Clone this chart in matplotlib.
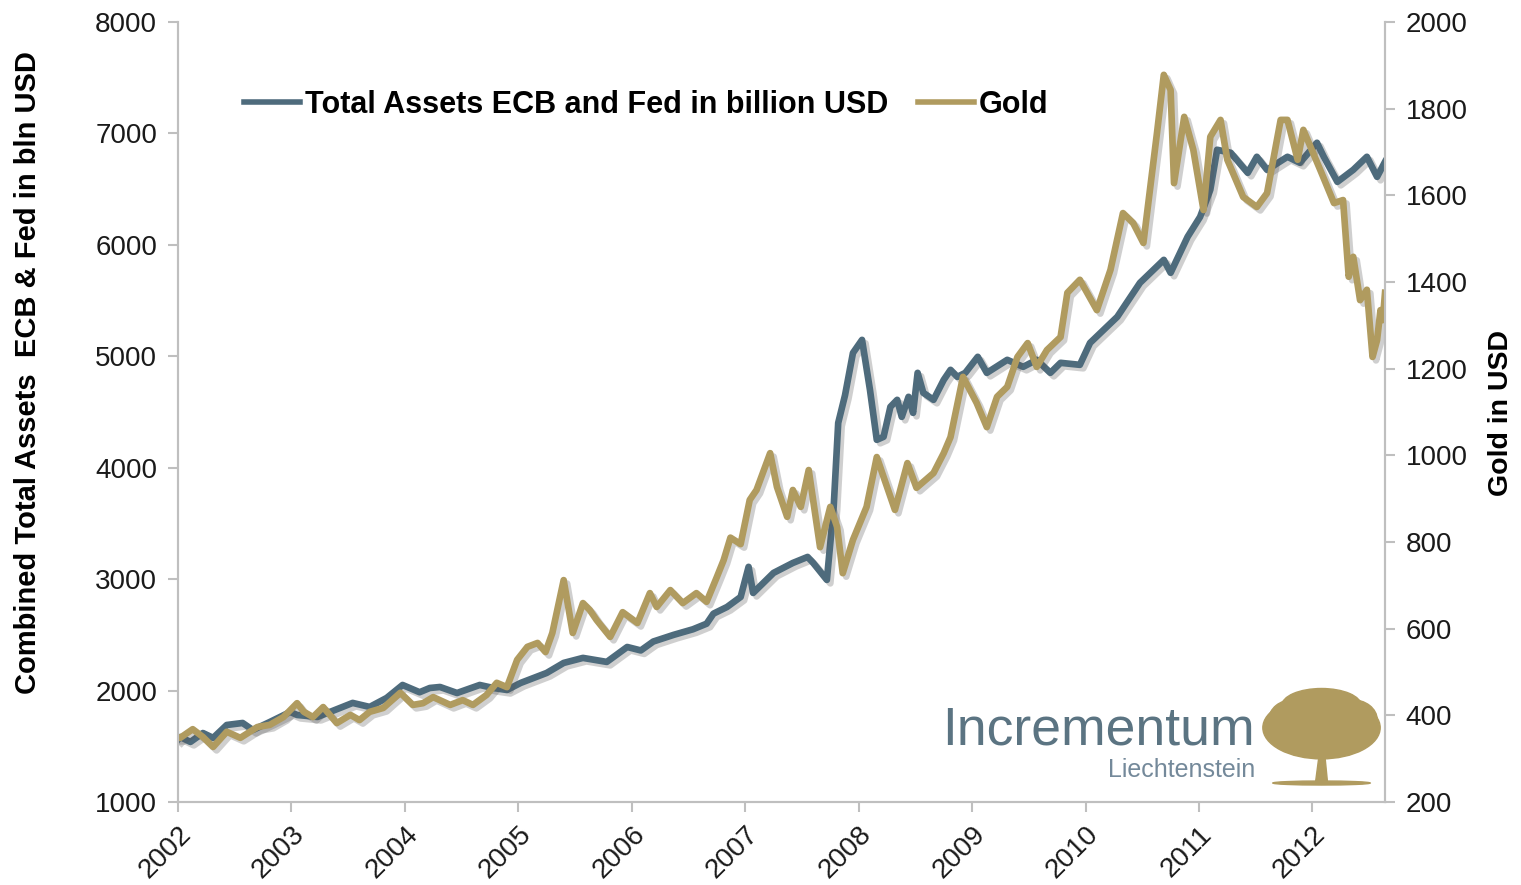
import matplotlib
matplotlib.use('Agg')
import matplotlib.pyplot as plt
import matplotlib.patheffects as pe
from matplotlib.patches import Ellipse, Polygon

# Дані
asset_years = [2002.00, 2002.02, 2002.11, 2002.22, 2002.31, 2002.43, 2002.57, 2002.66, 2002.81, 2002.99,
               2003.05, 2003.23, 2003.34, 2003.54, 2003.69, 2003.84, 2003.98, 2004.13, 2004.22, 2004.31,
               2004.46, 2004.66, 2004.78, 2004.90, 2005.02, 2005.25, 2005.40, 2005.57, 2005.78, 2005.96,
               2006.08, 2006.19, 2006.37, 2006.54, 2006.66, 2006.72, 2006.84, 2006.96, 2007.03, 2007.07,
               2007.25, 2007.42, 2007.55, 2007.60, 2007.72, 2007.78, 2007.82, 2007.88, 2007.95, 2008.03,
               2008.10, 2008.16, 2008.22, 2008.28, 2008.34, 2008.38, 2008.44, 2008.48, 2008.52, 2008.57,
               2008.66, 2008.75, 2008.81, 2008.87, 2008.94, 2009.05, 2009.13, 2009.31, 2009.45, 2009.57,
               2009.69, 2009.78, 2009.95, 2010.04, 2010.28, 2010.48, 2010.69, 2010.75, 2010.90, 2011.01,
               2011.10, 2011.16, 2011.28, 2011.43, 2011.51, 2011.60, 2011.78, 2011.89, 2012.04, 2012.10,
               2012.22, 2012.36, 2012.48, 2012.57, 2012.64]
asset_values = [1560, 1583, 1539, 1619, 1575, 1691, 1709, 1646, 1718, 1808,
                1781, 1763, 1808, 1889, 1853, 1934, 2050, 1985, 2023, 2032,
                1978, 2050, 2023, 2005, 2068, 2158, 2248, 2293, 2257, 2391,
                2360, 2440, 2500, 2550, 2600, 2690, 2750, 2840, 3110, 2876,
                3056, 3145, 3199, 3145, 2993, 3648, 4402, 4650, 5030, 5147,
                4698, 4250, 4277, 4546, 4609, 4456, 4636, 4492, 4851, 4672,
                4609, 4788, 4878, 4815, 4851, 4995, 4851, 4968, 4905, 4968,
                4851, 4941, 4923, 5120, 5354, 5659, 5865, 5749, 6072, 6251,
                6494, 6853, 6826, 6646, 6790, 6673, 6790, 6736, 6916, 6790,
                6565, 6673, 6790, 6610, 6745]

gold_years = [2002.00, 2002.02, 2002.13, 2002.22, 2002.31, 2002.43, 2002.55, 2002.70, 2002.81, 2002.93,
              2003.05, 2003.11, 2003.19, 2003.28, 2003.40, 2003.52, 2003.60, 2003.69, 2003.81, 2003.96,
              2004.07, 2004.16, 2004.25, 2004.40, 2004.51, 2004.60, 2004.72, 2004.81, 2004.90, 2004.99,
              2005.08, 2005.17, 2005.24, 2005.30, 2005.40, 2005.48, 2005.57, 2005.63, 2005.69, 2005.81,
              2005.92, 2006.05, 2006.16, 2006.22, 2006.34, 2006.45, 2006.57, 2006.66, 2006.75, 2006.81,
              2006.87, 2006.96, 2007.04, 2007.10, 2007.22, 2007.28, 2007.37, 2007.42, 2007.49, 2007.56,
              2007.66, 2007.75, 2007.81, 2007.86, 2007.95, 2008.07, 2008.16, 2008.22, 2008.32, 2008.43,
              2008.51, 2008.66, 2008.75, 2008.81, 2008.92, 2009.04, 2009.13, 2009.22, 2009.31, 2009.40,
              2009.49, 2009.57, 2009.66, 2009.78, 2009.84, 2009.95, 2010.10, 2010.22, 2010.33, 2010.42,
              2010.51, 2010.56, 2010.63, 2010.69, 2010.75, 2010.78, 2010.87, 2010.95, 2011.04, 2011.10,
              2011.19, 2011.25, 2011.39, 2011.51, 2011.60, 2011.72, 2011.78, 2011.87, 2011.92, 2012.07,
              2012.19, 2012.27, 2012.32, 2012.36, 2012.42, 2012.48, 2012.53, 2012.57, 2012.60, 2012.62,
              2012.64]
gold_values = [348, 348, 368, 350, 327, 362, 348, 373, 378, 396,
               428, 408, 396, 419, 382, 401, 389, 408, 417, 452,
               424, 428, 442, 424, 435, 424, 447, 475, 465, 528,
               558, 567, 546, 590, 712, 590, 659, 643, 620, 581,
               638, 613, 682, 650, 689, 659, 682, 662, 719, 758,
               810, 795, 897, 920, 1005, 927, 858, 920, 881, 966,
               788, 881, 835, 728, 805, 881, 996, 950, 874, 982,
               925, 959, 1005, 1042, 1181, 1121, 1065, 1135, 1158, 1227,
               1259, 1204, 1243, 1273, 1375, 1405, 1335, 1428, 1559, 1536,
               1490, 1596, 1744, 1878, 1843, 1628, 1781, 1705, 1566, 1735,
               1774, 1682, 1596, 1573, 1605, 1774, 1774, 1682, 1751, 1658,
               1582, 1589, 1412, 1458, 1358, 1382, 1227, 1266, 1335, 1312,
               1375]

year_ticks = list(range(2002, 2013))
left_ticks = list(range(1000, 8001, 1000))
right_ticks = list(range(200, 2001, 200))

blue = '#4e6b7c'
gold = '#b09b5f'
spine_col = '#bfbfbf'

plt.rcParams['font.family'] = ['Liberation Sans', 'DejaVu Sans']

fig = plt.figure(figsize=(15.21, 8.85), dpi=100)
ax = fig.add_axes([0.117, 0.0938, 0.7936, 0.8814])
ax2 = ax.twinx()

shadow = [pe.SimpleLineShadow(offset=(2.5, -2.5), shadow_color='#555555', alpha=0.28), pe.Normal()]

l1, = ax.plot(asset_years, asset_values, color=blue, lw=4.8, solid_joinstyle='round',
              path_effects=shadow, label='Total Assets ECB and Fed in billion USD')
l2, = ax2.plot(gold_years, gold_values, color=gold, lw=4.8, solid_joinstyle='round',
               path_effects=shadow, label='Gold')

ax.set_xlim(2002, 2012.64)
ax.set_ylim(1000, 8000)
ax2.set_ylim(200, 2000)
ax.set_xticks(year_ticks)
ax.set_xticklabels([str(y) for y in year_ticks], rotation=45, ha='right', rotation_mode='anchor')
ax.set_yticks(left_ticks)
ax2.set_yticks(right_ticks)

for a in (ax, ax2):
    for s in a.spines.values():
        s.set_color(spine_col)
        s.set_linewidth(1.5)
    a.spines['top'].set_visible(False)
    a.tick_params(colors=spine_col, labelcolor='#1a1a1a', labelsize=20, length=7, width=1.5)
ax.tick_params(axis='x', pad=7)
ax.tick_params(axis='y', pad=8)
ax2.tick_params(axis='y', pad=8)

ax.set_ylabel('Combined Total Assets  ECB & Fed in bln USD', fontsize=21, fontweight='bold')
ax.yaxis.set_label_coords(-0.1127, 0.551)
ax2.set_ylabel('Gold in USD', fontsize=20.5, fontweight='bold')
ax2.yaxis.set_label_coords(1.0853, 0.499)

leg = ax.legend(handles=[l1, l2], loc='center', bbox_to_anchor=(0.388, 0.894), ncol=2, frameon=False,
                handlelength=1.83, handletextpad=0.16, columnspacing=1.0,
                prop={'weight': 'bold', 'size': 22})
for h in leg.get_lines():
    h.set_path_effects([])
    h.set_linewidth(4)

# Логотип
fig.text(0.825, 0.1585, 'Incrementum', fontsize=38.5, color='#5b7482', ha='right', va='baseline')
fig.text(0.825, 0.1225, 'Liechtenstein', fontsize=18, color='#74899a', ha='right', va='baseline')
lax = fig.add_axes([0.827, 0.105, 0.085, 0.125])
lax.set_xlim(0, 130)
lax.set_ylim(0, 110)
lax.axis('off')
lax.add_patch(Polygon([[58, 10], [70, 10], [67, 40], [62, 40]], color=gold))
lax.add_patch(Ellipse((64, 9), 98, 4, color=gold))
lax.add_patch(Ellipse((64, 64), 118, 62, color=gold))
lax.add_patch(Ellipse((64, 86), 80, 34, color=gold))
lax.add_patch(Ellipse((36, 72), 50, 40, color=gold))
lax.add_patch(Ellipse((94, 72), 52, 40, color=gold))

fig.savefig('out.png', dpi=100)
